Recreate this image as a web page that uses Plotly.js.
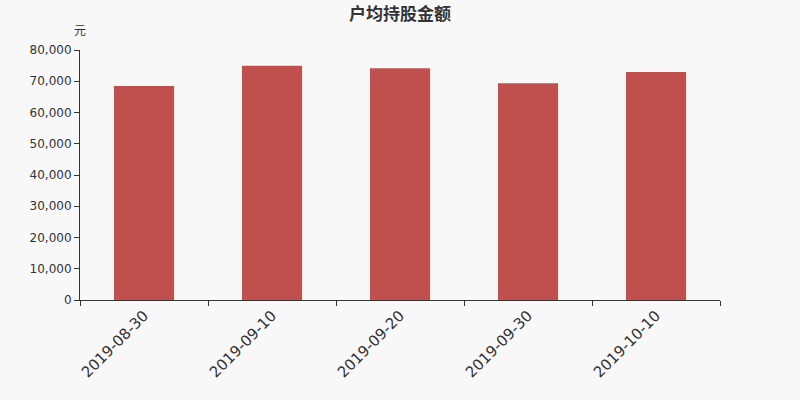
<!DOCTYPE html>
<html>
<head>
<meta charset="utf-8">
<script src="https://cdn.plot.ly/plotly-3.0.1.min.js"></script>
<style>
  html, body { margin: 0; padding: 0; background: #f8f8f8; }
  #chart { width: 800px; height: 400px; }
</style>
</head>
<body>
<div id="chart"></div>
<script>
/* 户均持股金额 bar chart */

const dates = ['2019-08-30', '2019-09-10', '2019-09-20', '2019-09-30', '2019-10-10'];
const amounts = [68500, 75000, 74200, 69400, 73000];
const yTicks = [0, 10000, 20000, 30000, 40000, 50000, 60000, 70000, 80000];

const FONT = '"Noto Sans CJK SC", "DejaVu Sans", sans-serif';

const trace = {
    type: 'bar',
    x: dates,
    y: amounts,
    marker: { color: '#c0504d' },
    hoverinfo: 'x+y',
};

const layout = {
    width: 800,
    height: 400,
    paper_bgcolor: '#f8f8f8',
    plot_bgcolor: '#f8f8f8',
    margin: { t: 50, r: 80, b: 100, l: 80 },
    bargap: 0.53,
    showlegend: false,
    font: { family: FONT, color: '#333' },
    title: {
        text: '<b>户均持股金额</b>',
        font: { size: 17, color: '#333', family: FONT },
        x: 0.5,
        xanchor: 'center',
        y: 0.965,
        yanchor: 'middle',
    },
    xaxis: {
        type: 'category',
        showline: true,
        linecolor: '#333',
        linewidth: 1,
        ticks: 'outside',
        tickson: 'boundaries',
        ticklen: 5,
        tickcolor: '#333',
        tickangle: -45,
        tickfont: { size: 15, color: '#333', family: '"DejaVu Sans", sans-serif' },
        showgrid: false,
        zeroline: false,
    },
    yaxis: {
        range: [0, 80000],
        tickvals: yTicks,
        ticktext: yTicks.map(v => v.toLocaleString('en-US')),
        showline: true,
        linecolor: '#333',
        linewidth: 1,
        ticks: 'outside',
        ticklen: 5,
        tickcolor: '#333',
        tickfont: { size: 12, color: '#333', family: '"DejaVu Sans", sans-serif' },
        showgrid: false,
        zeroline: false,
    },
    annotations: [{
        text: '元',
        xref: 'paper',
        yref: 'paper',
        x: 0,
        y: 1,
        xanchor: 'center',
        yanchor: 'bottom',
        yshift: 10,
        showarrow: false,
        font: { size: 12, color: '#333', family: FONT },
    }],
};

Plotly.newPlot('chart', [trace], layout, { displayModeBar: false, staticPlot: true });
</script>
</body>
</html>
